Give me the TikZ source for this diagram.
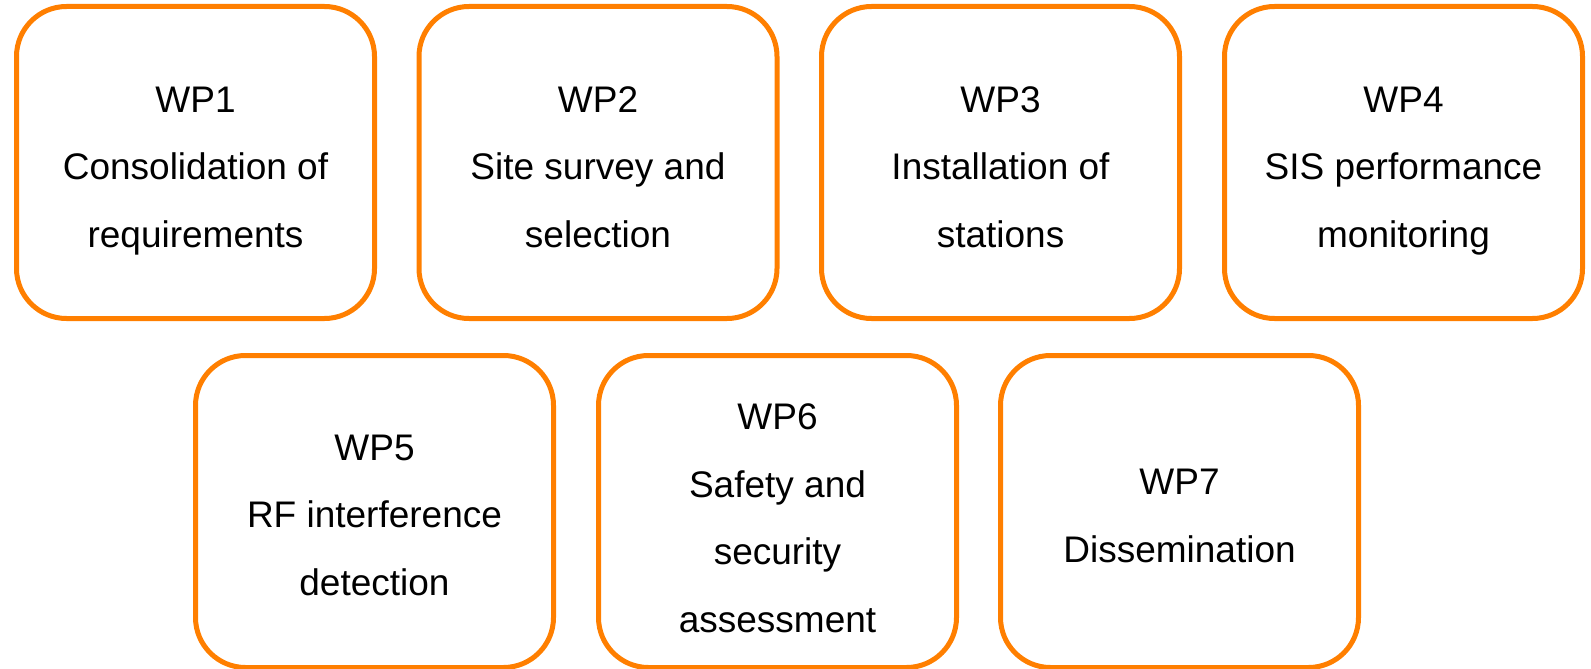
\documentclass[tikz,border=0pt]{standalone}
\usepackage{fontspec}
\setmainfont{Liberation Sans}
\definecolor{wporange}{RGB}{255,127,0}

\begin{document}
\begin{tikzpicture}[x=1pt,y=-1pt,
    wpbox/.style={draw=wporange,line width=5pt,rounded corners=50pt,
        minimum width=358pt,minimum height=312pt,inner sep=0pt},
    wptext/.style={anchor=base,align=center,inner sep=0pt,
        font=\fontsize{37}{67.5}\selectfont}]
    \useasboundingbox (0,0) rectangle (1591,669);
    % first row
    \node [wpbox] (wp1) at (195.5,162.5) {};
    \node [wpbox] (wp2) at (598,162.5) {};
    \node [wpbox] (wp3) at (1000.5,162.5) {};
    \node [wpbox] (wp4) at (1403.5,162.5) {};
    % second row
    \node [wpbox] (wp5) at (374.5,511.5) {};
    \node [wpbox] (wp6) at (777.5,511.5) {};
    \node [wpbox] (wp7) at (1179.5,511.5) {};
    % labels, placed by the baseline of their last line
    \node [wptext] (wp1text) at ([yshift=-84.5pt]wp1.center) {WP1\\Consolidation of\\requirements};
    \node [wptext] (wp2text) at ([yshift=-84.5pt]wp2.center) {WP2\\Site survey and\\selection};
    \node [wptext] (wp3text) at ([yshift=-84.5pt]wp3.center) {WP3\\Installation of\\stations};
    \node [wptext] (wp4text) at ([yshift=-84.5pt]wp4.center) {WP4\\SIS performance\\monitoring};
    \node [wptext] (wp5text) at ([yshift=-83.5pt]wp5.center) {WP5\\RF interference\\detection};
    \node [wptext] (wp6text) at ([yshift=-120.5pt]wp6.center) {WP6\\Safety and\\security\\assessment};
    \node [wptext] (wp7text) at ([yshift=-50.5pt]wp7.center) {WP7\\Dissemination};
\end{tikzpicture}
\end{document}
